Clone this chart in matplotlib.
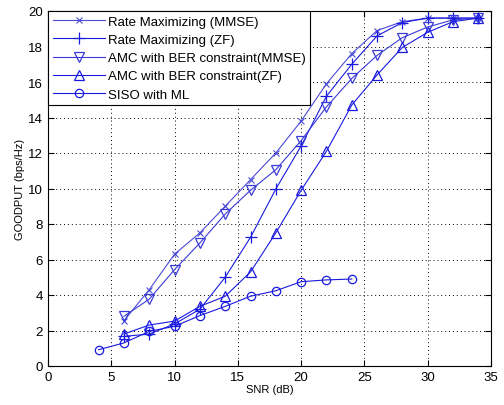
import matplotlib
matplotlib.use("Agg")
import matplotlib.pyplot as plt

plt.rcParams['font.family'] = ['Liberation Sans', 'DejaVu Sans']

# =========================
# DATA
# =========================
snr = [6, 8, 10, 12, 14, 16, 18, 20, 22, 24, 26, 28, 30, 32, 34]
rate_mmse = [2.55, 4.3, 6.3, 7.5, 9.0, 10.5, 12.0, 13.8, 15.9, 17.6, 18.9, 19.4, 19.6, 19.6, 19.6]
rate_zf = [1.67, 1.8, 2.37, 3.2, 5.0, 7.25, 9.97, 12.4, 15.2, 17.0, 18.6, 19.35, 19.6, 19.6, 19.6]
amc_mmse = [2.8, 3.77, 5.43, 6.93, 8.56, 9.9, 11.06, 12.7, 14.6, 16.2, 17.5, 18.5, 19.1, 19.5, 19.6]
amc_zf = [1.8, 2.31, 2.53, 3.36, 3.93, 5.3, 7.5, 9.9, 12.1, 14.7, 16.4, 17.95, 18.8, 19.4, 19.6]

snr_siso = [4, 6, 8, 10, 12, 14, 16, 18, 20, 22, 24]
siso_ml = [0.92, 1.3, 1.95, 2.24, 2.84, 3.36, 3.93, 4.24, 4.75, 4.85, 4.9]

labels = ["Rate Maximizing (MMSE)", "Rate Maximizing (ZF)",
          "AMC with BER constraint(MMSE)", "AMC with BER constraint(ZF)",
          "SISO with ML"]

# =========================
# PLOT
# =========================
fig = plt.figure(figsize=(5.04, 4.06), dpi=100)
ax = fig.add_axes([48 / 504, 1 - 367 / 406, 443 / 504, 355 / 406])

c = "#1a1ae0"
lw = 0.8
ax.plot(snr, rate_mmse, color="#4a4ad8", lw=lw, marker="x", ms=4.5, mew=0.8, label=labels[0])
ax.plot(snr, rate_zf, color=c, lw=lw, marker="+", ms=8, mew=0.9, label=labels[1])
ax.plot(snr, amc_mmse, color="#3a3ad8", lw=lw, marker="v", ms=6.5, mfc="none", mew=0.9, label=labels[2])
ax.plot(snr, amc_zf, color=c, lw=lw, marker="^", ms=6.5, mfc="none", mew=0.9, label=labels[3])
ax.plot(snr_siso, siso_ml, color=c, lw=lw, marker="o", ms=6, mfc="none", mew=0.9, label=labels[4])

ax.set_xlim(0, 35)
ax.set_ylim(0, 20)
ax.set_xticks(range(0, 36, 5))
ax.set_yticks(range(0, 21, 2))
ax.tick_params(direction="in", labelsize=9.5, length=4, top=True, right=True)
ax.grid(True, linestyle=(0, (1, 3)), color="black", lw=0.7)
ax.set_xlabel("SNR (dB)", fontsize=8, labelpad=1)
ax.set_ylabel("GOODPUT (bps/Hz)", fontsize=8, labelpad=2)

leg = ax.legend(loc="upper left", fontsize=9.5, handlelength=4.0, borderaxespad=0,
                fancybox=False, framealpha=1, edgecolor="black",
                labelspacing=0.45, handletextpad=0.2, borderpad=0.35)
leg.get_frame().set_linewidth(0.8)

fig.savefig("out.png", dpi=100)
